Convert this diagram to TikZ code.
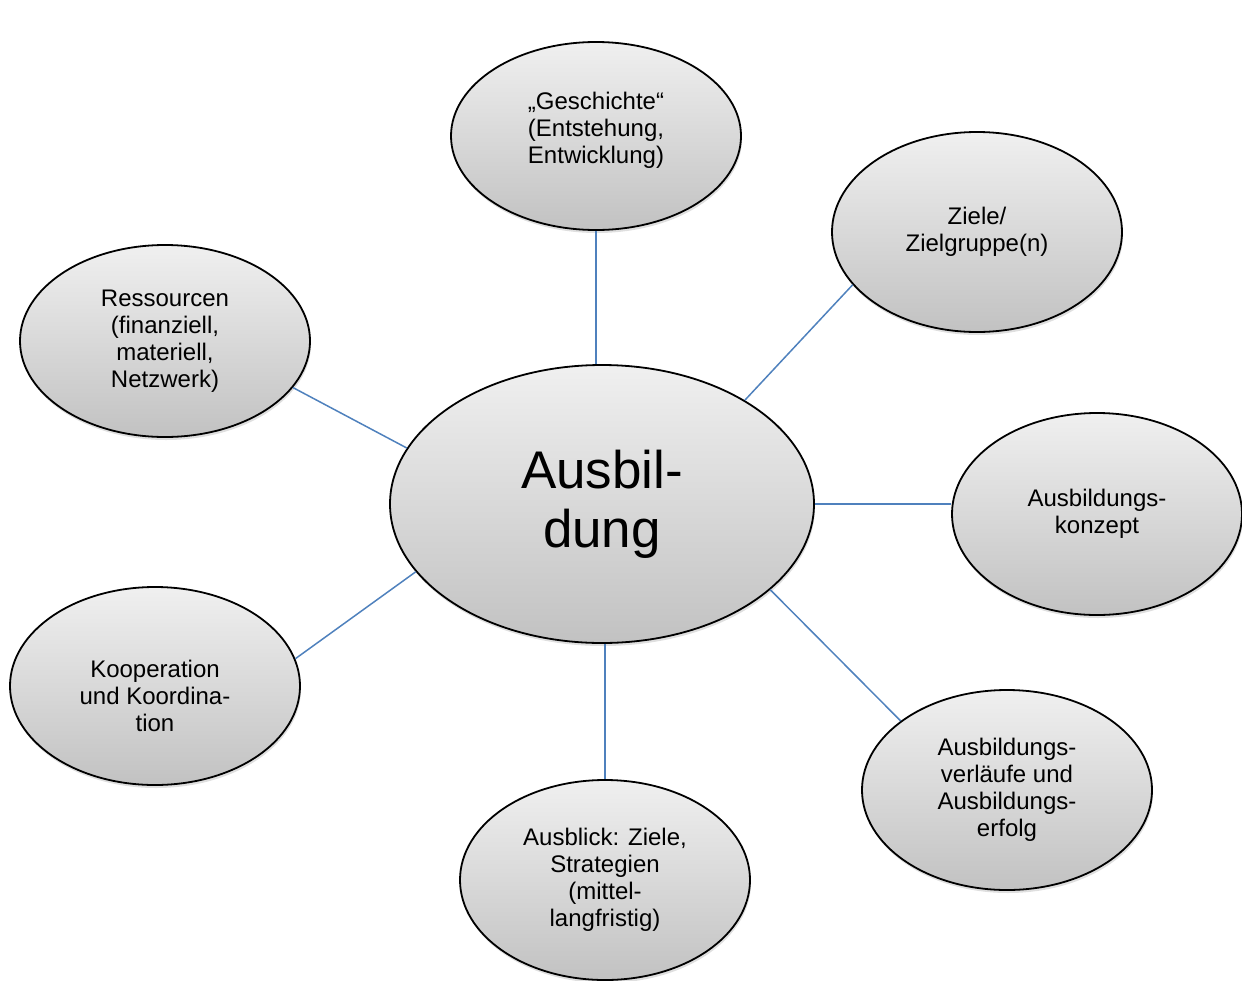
\documentclass[tikz,border=0pt]{standalone}
\usepackage{fontspec}
\setmainfont{Liberation Sans}
\usetikzlibrary{shapes.geometric,shadows}
\definecolor{linkblue}{RGB}{79,129,189}
\tikzset{
  bubble/.style={ellipse, draw=black, line width=1.8pt, inner sep=0pt,
    top color=black!6, bottom color=black!24, align=center,
    drop shadow={shadow xshift=1pt, shadow yshift=-3pt, opacity=0.25},
    font=\fontsize{24}{27}\selectfont},
  small/.style={bubble, minimum width=290pt, minimum height=198pt},
  link/.style={draw=linkblue, line width=1.5pt}
}
\begin{document}
\begin{tikzpicture}[x=1pt,y=1pt]
\useasboundingbox (0,0) rectangle (1242,-980);
% central topic
\node[bubble, minimum width=424pt, minimum height=278pt,
      font=\fontsize{53}{59}\selectfont] (c) at (602,-504) {Ausbil-\\dung};
% surrounding topics
\node[small, minimum height=188pt] (g) at (596,-136)
  {„Geschichte“\\(Entstehung,\\Entwicklung)\\[-11pt]};
\node[small, minimum height=200pt] (z) at (977,-232) {Ziele/\\Zielgruppe(n)};
\node[small, minimum height=192pt] (r) at (165,-341)
  {Ressourcen\\(finanziell,\\materiell,\\Netzwerk)};
\node[small, minimum height=202pt] (k) at (1097,-514) {Ausbildungs-\\konzept};
\node[small] (ko) at (155,-686) {Kooperation\\und Koordina-\\tion\\[-47pt]};
\node[small, minimum height=200pt] (a) at (605,-880)
  {Ausblick: Ziele,\\Strategien\\(mittel-\\langfristig)};
\node[small, minimum height=200pt] (v) at (1007,-790)
  {Ausbildungs-\\verläufe und\\Ausbildungs-\\erfolg};
% connectors
\draw[link] (g.south) -- (g.south |- c.north);
\draw[link] (c.36) -- (z.203);
\draw[link] (c.164) -- (r.-20);
\draw[link] (c.0) -- (c.0 -| k.west);
\draw[link] (c.200) -- (ko.11);
\draw[link] (a.north |- c.south) -- (a.north);
\draw[link] (c.-27) -- (v.147);
\end{tikzpicture}
\end{document}
